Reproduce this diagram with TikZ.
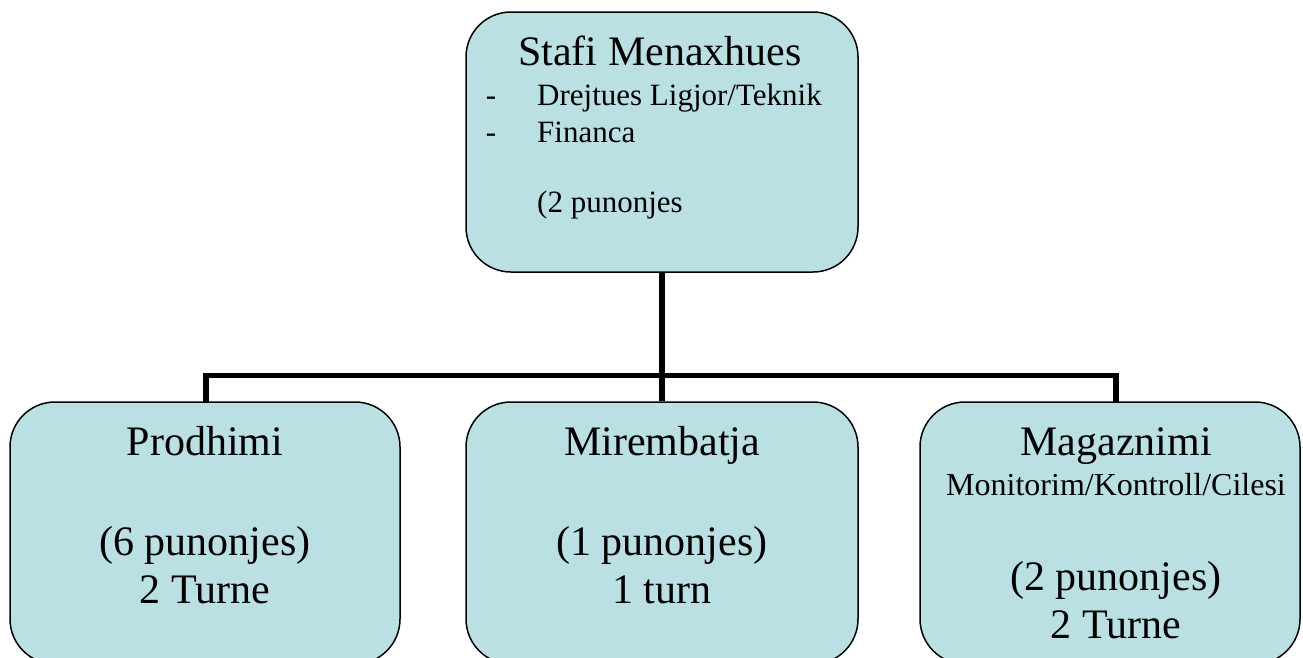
\documentclass[tikz,border=0pt]{standalone}
\usepackage{fontspec}
\setmainfont{Liberation Serif}
\definecolor{boxfill}{RGB}{187,224,227}
\tikzset{
  orgbox/.style={draw=black, line width=1.5pt, fill=boxfill, rounded corners=45pt, inner sep=0pt},
  big/.style={anchor=base, inner sep=0pt, font=\fontsize{42}{48}\selectfont},
  small/.style={anchor=base, inner sep=0pt, font=\fontsize{31}{36}\selectfont},
  smallleft/.style={anchor=base west, inner sep=0pt, font=\fontsize{31}{36}\selectfont},
  conn/.style={draw=black, line width=5.5pt, line join=miter, line cap=butt}
}
\begin{document}
\begin{tikzpicture}[x=1pt,y=-1pt]
\useasboundingbox (0,0) rectangle (1303,657);
% boxes
\node[orgbox, minimum width=392pt, minimum height=260pt] (top) at (662,142) {};
\node[orgbox, minimum width=390pt, minimum height=262pt] (left) at (205,533) {};
\node[orgbox, minimum width=392pt, minimum height=262pt] (mid) at (662,533) {};
\node[orgbox, minimum width=380pt, minimum height=262pt] (right) at (1110,533) {};
% connectors
\coordinate (j) at (662,375.5);
\coordinate (ld) at (206,402);
\coordinate (rd) at (1116,402);
\draw[conn] (ld) |- (j) -| (rd);
\draw[conn] (top.south) -- (mid.north);
% top box text
\node[big] (t1) at (660,65) {Stafi Menaxhues};
\node[small] (d1) at (491,105) {-};
\node[smallleft] (t2) at (537,105) {Drejtues Ligjor/Teknik};
\node[small] (d2) at (491,142) {-};
\node[smallleft] (t3) at (537,142) {Financa};
\node[smallleft] (t4) at (537,212) {(2 punonjes};
% left box text
\node[big] (l1) at (205,455) {Prodhimi};
\node[big] (l2) at (205,555) {(6 punonjes)};
\node[big] (l3) at (205,603) {2 Turne};
% middle box text
\node[big] (m1) at (662,455) {Mirembatja};
\node[big] (m2) at (662,555) {(1 punonjes)};
\node[big] (m3) at (662,603) {1 turn};
% right box text
\node[big] (r1) at (1116,455) {Magaznimi};
\node[font=\fontsize{32}{36}\selectfont, anchor=base, inner sep=0pt] (r2) at (1116,495) {Monitorim/Kontroll/Cilesi};
\node[big] (r3) at (1116,590) {(2 punonjes)};
\node[big] (r4) at (1116,638) {2 Turne};
\end{tikzpicture}
\end{document}
